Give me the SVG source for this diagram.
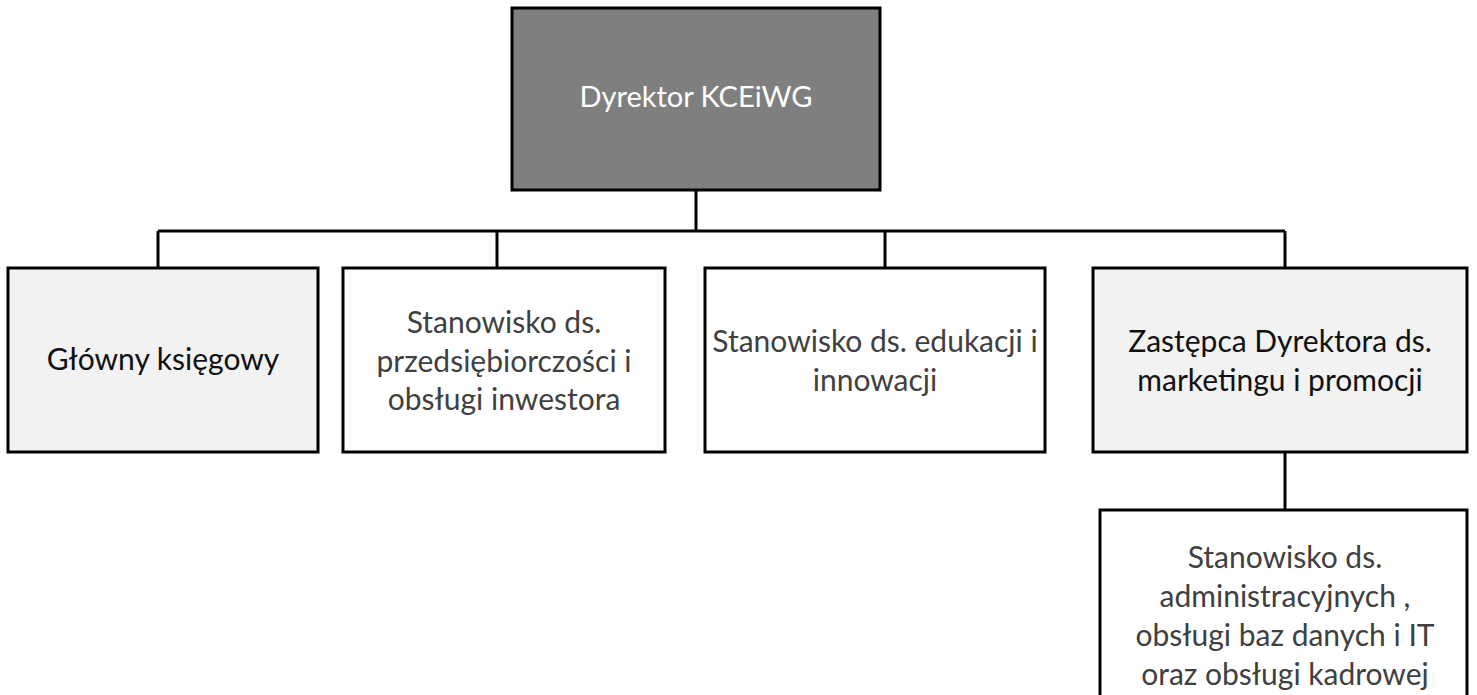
<svg xmlns="http://www.w3.org/2000/svg" width="1477" height="695" viewBox="0 0 1477 695">
<style>
.box{stroke:#000;stroke-width:3}
.w{fill:#fff}
.g{fill:#f2f2f2}
.d{fill:#7f7f7f}
text{font-family:Lato,"Open Sans","Liberation Sans",sans-serif;font-size:30px;text-anchor:middle}
.t{fill:#404040}
.k{fill:#111}
.wt{fill:#fff;font-size:29px}
.c{stroke:#000;stroke-width:3;fill:none}
</style>
<rect width="1477" height="695" fill="#fff"/>
<g id="connectors">
<path class="c" d="M696 190V231M158 231H1285M158 231V268M497 231V268M885 231V268M1285 231V268M1285 452V510"/>
</g>
<g id="n-dyrektor">
<rect class="box d" x="512" y="8" width="368" height="182"/>
<text class="wt" x="696" y="107">Dyrektor KCEiWG</text>
</g>
<g id="n-ksiegowy">
<rect class="box g" x="8" y="268" width="310" height="184"/>
<text class="k" x="163" y="370">Główny księgowy</text>
</g>
<g id="n-przedsiebiorczosc">
<rect class="box w" x="343" y="268" width="322" height="184"/>
<text class="t" x="504" y="333">Stanowisko ds.</text>
<text class="t" x="504" y="372">przedsiębiorczości i</text>
<text class="t" x="504" y="410">obsługi inwestora</text>
</g>
<g id="n-edukacja">
<rect class="box w" x="705" y="268" width="340" height="184"/>
<text class="t" x="875" y="352">Stanowisko ds. edukacji i</text>
<text class="t" x="875" y="391">innowacji</text>
</g>
<g id="n-zastepca">
<rect class="box g" x="1093" y="268" width="374" height="184"/>
<text class="k" x="1280" y="352">Zastępca Dyrektora ds.</text>
<text class="k" x="1280" y="391">marketingu i promocji</text>
</g>
<g id="n-administracja">
<rect class="box w" x="1100" y="510" width="367" height="200"/>
<text class="t" x="1285" y="568">Stanowisko ds.</text>
<text class="t" x="1285" y="607">administracyjnych ,</text>
<text class="t" x="1285" y="646">obsługi baz danych i IT</text>
<text class="t" x="1285" y="685">oraz obsługi kadrowej</text>
</g>
</svg>
